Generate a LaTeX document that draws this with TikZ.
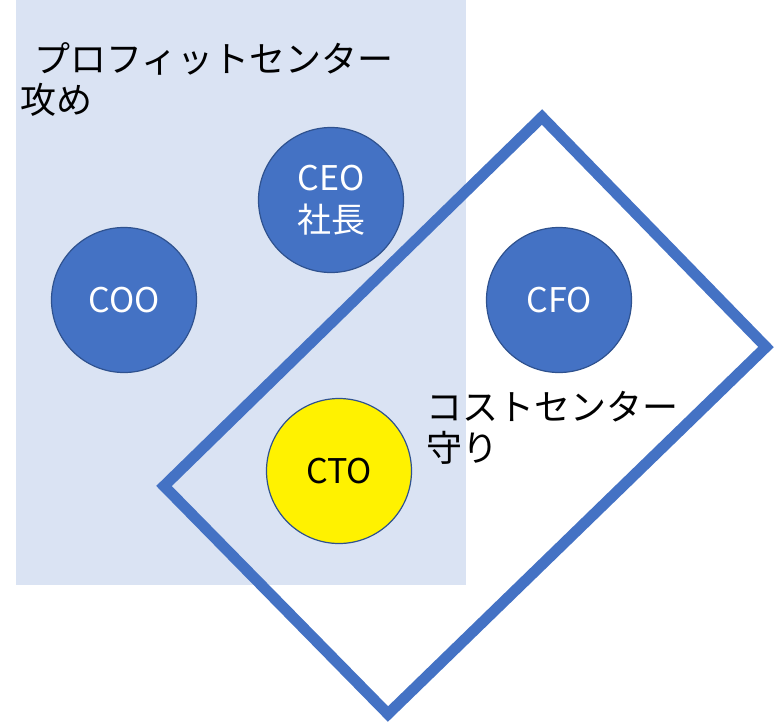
\documentclass[tikz,border=0pt]{standalone}
\usepackage{fontspec}
\setmainfont{Noto Sans CJK JP}
\definecolor{offblue}{HTML}{4472C4}
\definecolor{edgeblue}{HTML}{2F528F}
\definecolor{paleblue}{HTML}{DAE3F3}

\begin{document}
\begin{tikzpicture}[x=1pt,y=-1pt,
    role/.style={circle,draw=edgeblue,line width=1.2pt,fill=offblue,text=white,
        minimum size=145pt,inner sep=0pt,align=center,
        font=\fontsize{34}{42}\selectfont},
    techrole/.style={role,fill=yellow,text=black},
    area/.style={anchor=west,inner sep=0pt,align=left,
        font=\fontsize{36}{41}\selectfont}]

\useasboundingbox (0,0) rectangle (776,724);

% ===== Profit center area =====
\fill[paleblue] (16,0) rectangle (466,585);

% ===== Cost center frame =====
\coordinate (ctop) at (542,117);
\coordinate (cright) at (766,347);
\coordinate (cbottom) at (388,714);
\coordinate (cleft) at (164,486);
\draw[offblue,line width=11pt,line join=miter] (ctop) -- (cright) -- (cbottom) -- (cleft) -- cycle;

% ===== Roles =====
\node[role] (ceo) at (331,200) {CEO\\社長};
\node[role] (coo) at (124,300) {COO};
\node[role] (cfo) at (559,300) {CFO};
\node[techrole] (cto) at (339,471) {CTO};

% ===== Labels =====
\node[area] (profit) at (20,80) {\hspace*{0.4em}プロフィットセンター\\攻め};
\node[area] (cost) at (426,428) {コストセンター\\守り};

\end{tikzpicture}
\end{document}
